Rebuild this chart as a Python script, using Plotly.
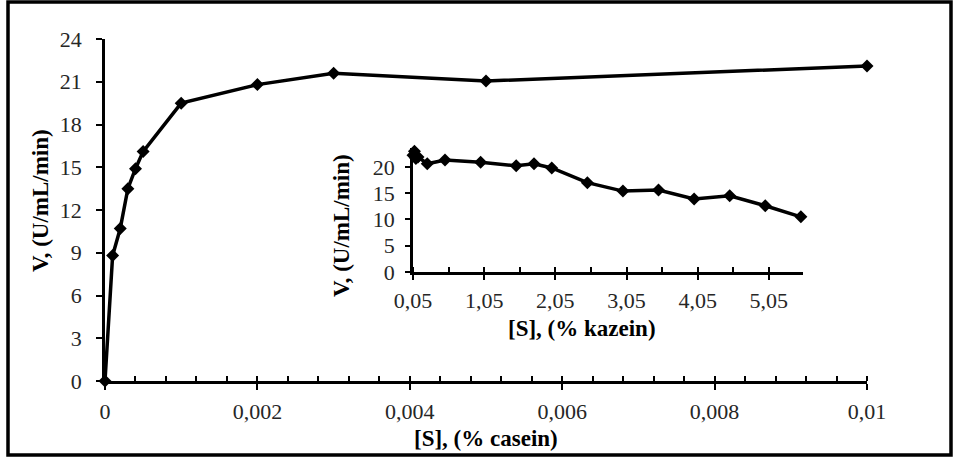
import plotly.graph_objects as go

# Main chart data: V vs [S] (% casein)
casein_s = [0, 0.0001, 0.0002, 0.0003, 0.0004, 0.0005, 0.001, 0.002, 0.003, 0.005, 0.01]
casein_v = [0, 8.8, 10.7, 13.5, 14.9, 16.1, 19.5, 20.8, 21.6, 21.05, 22.1]

# Inset data: V vs [S] (% kazein)
kazein_s = [0.05, 0.07, 0.09, 0.12, 0.25, 0.5, 1.0, 1.5, 1.75, 2.0, 2.5, 3.0, 3.5, 4.0, 4.5, 5.0, 5.5]
kazein_v = [22.2, 23.0, 21.6, 21.9, 20.6, 21.3, 20.9, 20.2, 20.6, 19.8, 17.0, 15.4, 15.6, 13.9, 14.5, 12.6, 10.5]

main_x_tickvals = [0, 0.002, 0.004, 0.006, 0.008, 0.01]
main_x_ticktext = ["0", "0,002", "0,004", "0,006", "0,008", "0,01"]
main_y_tickvals = [0, 3, 6, 9, 12, 15, 18, 21, 24]
inset_x_tickvals = [0.05, 1.05, 2.05, 3.05, 4.05, 5.05]
inset_x_ticktext = ["0,05", "1,05", "2,05", "3,05", "4,05", "5,05"]
inset_y_tickvals = [0, 5, 10, 15, 20]

W, H = 955, 459
FONT = "Liberation Serif"
TICKFONT = dict(family=FONT, size=22, color="#262626")
TITLEFONT = dict(family=FONT, size=23, color="black")


def px(x):
    return x / W


def py(y):
    return (H - y) / H


fig = go.Figure()
fig.add_trace(go.Scatter(
    x=casein_s, y=casein_v, mode="lines+markers",
    line=dict(color="black", width=3.5),
    marker=dict(symbol="diamond", size=10, color="black"),
    cliponaxis=False, xaxis="x", yaxis="y", showlegend=False,
))
fig.add_trace(go.Scatter(
    x=kazein_s, y=kazein_v, mode="lines+markers",
    line=dict(color="black", width=3.5),
    marker=dict(symbol="diamond", size=10, color="black"),
    cliponaxis=False, xaxis="x2", yaxis="y2", showlegend=False,
))

common = dict(showline=True, linecolor="black", linewidth=2.5, showgrid=False,
              zeroline=False, tickfont=TICKFONT, automargin=False,
              tickcolor="black", tickwidth=2)

fig.update_layout(
    template="none",
    width=W, height=H,
    margin=dict(l=0, r=0, t=0, b=0, pad=0, autoexpand=False),
    paper_bgcolor="white", plot_bgcolor="rgba(0,0,0,0)",
    separators=", ",
    xaxis=dict(
        domain=[px(105), px(867)], range=[0, 0.01], anchor="y",
        tickmode="array", tickvals=main_x_tickvals, ticktext=main_x_ticktext,
        ticks="outside", ticklen=6,
        minor=dict(tickmode="linear", tick0=0, dtick=0.0004, ticks="inside",
                   ticklen=5, tickwidth=2, tickcolor="black", showgrid=False),
        ticklabelstandoff=3, **common,
    ),
    yaxis=dict(
        domain=[py(381), py(39)], range=[0, 24], anchor="x",
        tickmode="array", tickvals=main_y_tickvals,
        ticks="outside", ticklen=6,
        ticklabelstandoff=10, **common,
    ),
    xaxis2=dict(
        domain=[px(413), px(803)], range=[0.05, 5.53], anchor="y2",
        tickmode="array", tickvals=inset_x_tickvals, ticktext=inset_x_ticktext,
        ticks="outside", ticklen=5,
        minor=dict(tickmode="linear", tick0=0.05, dtick=0.5, ticks="inside",
                   ticklen=5, tickwidth=2, tickcolor="black", showgrid=False),
        ticklabelstandoff=2, **common,
    ),
    yaxis2=dict(
        domain=[py(272), py(148)], range=[0, 23.6], anchor="x2",
        tickmode="array", tickvals=inset_y_tickvals,
        ticks="outside", ticklen=5,
        ticklabelstandoff=6, **common,
    ),
    shapes=[dict(type="rect", xref="paper", yref="paper",
                 x0=px(8), x1=px(951), y0=py(455), y1=py(2),
                 line=dict(color="black", width=3.5))],
    annotations=[
        dict(text="<b>V, (U/mL/min)</b>", xref="paper", yref="paper",
             x=px(40), y=py(201), textangle=-90, showarrow=False,
             xanchor="center", yanchor="middle", font=TITLEFONT),
        dict(text="<b>[S], (% casein)</b>", xref="paper", yref="paper",
             x=px(486), y=py(438), showarrow=False,
             xanchor="center", yanchor="middle", font=TITLEFONT),
        dict(text="<b>V, (U/mL/min)</b>", xref="paper", yref="paper",
             x=px(342), y=py(226), textangle=-90, showarrow=False,
             xanchor="center", yanchor="middle", font=TITLEFONT),
        dict(text="<b>[S], (% kazein)</b>", xref="paper", yref="paper",
             x=px(582), y=py(328), showarrow=False,
             xanchor="center", yanchor="middle", font=TITLEFONT),
    ],
)

fig.write_html("out.html")
